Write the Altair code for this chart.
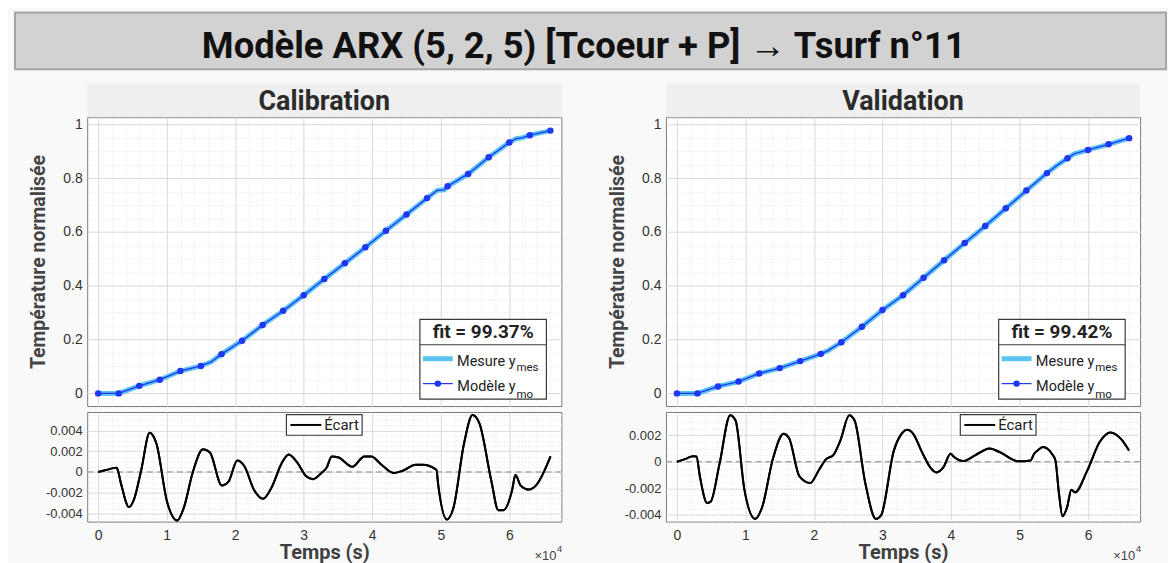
import altair as alt
import pandas as pd

# ---------------- data ----------------
TITLE = "Modèle ARX (5, 2, 5) [Tcoeur + P] → Tsurf n°11"
PANELS = ["Calibration", "Validation"]
FITS = ["fit = 99.37%", "fit = 99.42%"]

marker_t = [0, 3000, 6000, 9000, 12000, 15000, 18000, 21000, 24000, 27000, 30000, 33000,
            36000, 39000, 42000, 45000, 48000, 51000, 54000, 57000, 60000, 63000, 66000]

cal_model_y = [0.000, 0.000, 0.028, 0.051, 0.083, 0.102, 0.146, 0.196, 0.254, 0.307, 0.365, 0.425,
               0.484, 0.543, 0.605, 0.665, 0.726, 0.770, 0.816, 0.878, 0.933, 0.960, 0.977]
cal_line_t = [0, 3000, 6000, 9000, 12000, 15000, 16500, 18000, 21000, 24000, 27000, 30000, 33000,
              36000, 39000, 42000, 45000, 48000, 49500, 50500, 51000, 54000, 57000, 60000, 61000,
              62000, 63000, 66000]
cal_line_y = [0.000, 0.000, 0.028, 0.051, 0.083, 0.102, 0.117, 0.146, 0.196, 0.254, 0.307, 0.365, 0.425,
              0.484, 0.543, 0.605, 0.665, 0.726, 0.755, 0.757, 0.770, 0.816, 0.878, 0.933, 0.947,
              0.951, 0.960, 0.977]

val_model_y = [0.000, 0.000, 0.026, 0.044, 0.074, 0.094, 0.120, 0.147, 0.190, 0.248, 0.310, 0.365,
               0.430, 0.495, 0.559, 0.622, 0.688, 0.754, 0.819, 0.874, 0.905, 0.926, 0.949]
val_line_t = [0, 3000, 6000, 9000, 12000, 15000, 18000, 21000, 22000, 24000, 27000, 30000, 33000,
              36000, 39000, 42000, 45000, 48000, 51000, 54000, 55500, 57000, 58000, 60000, 63000, 66000]
val_line_y = [0.000, 0.000, 0.026, 0.044, 0.074, 0.094, 0.120, 0.147, 0.158, 0.190, 0.248, 0.310, 0.365,
              0.430, 0.495, 0.559, 0.622, 0.688, 0.754, 0.819, 0.848, 0.874, 0.891, 0.905, 0.926, 0.949]

cal_err_t = [0, 1000, 2660, 2760, 3360, 4500, 5260, 6260, 7520, 8520, 10025, 11530, 12530, 13780,
             15290, 16290, 18050, 19050, 20300, 21300, 22800, 24060, 25310, 26820, 27820, 29070,
             30330, 31330, 32580, 33330, 34090, 35090, 37090, 38850, 39850, 41350, 43110, 44360,
             46370, 47370, 49370, 49620, 50880, 51880, 53380, 54640, 55640, 57390, 58400, 59150,
             60400, 60900, 61650, 62910, 63910, 66020]
cal_err_v = [0.0, 0.00016, 0.0004, 0.00035, -0.0012, -0.0034, -0.0026, 0.0001, 0.0038, 0.0027,
             -0.0028, -0.0047, -0.0034, -0.0001, 0.0022, 0.0019, -0.0013, -0.0009, 0.0011, 0.0006,
             -0.0018, -0.0026, -0.0015, 0.0009, 0.0017, 0.0009, -0.0004, -0.0007, -0.0001, 0.0004,
             0.0015, 0.0014, 0.0005, 0.0015, 0.0015, 0.0007, -0.0001, 0.0001, 0.0007, 0.0007,
             0.0002, -0.0012, -0.0046, -0.0034, 0.0027, 0.0055, 0.0047, -0.0009, -0.0037, -0.0037,
             -0.0018, -0.0003, -0.0013, -0.0017, -0.0013, 0.0015]

val_err_t = [0, 1300, 2330, 2850, 3370, 4410, 4930, 6220, 7780, 8560, 9850, 11410, 12450, 14000,
             15560, 16340, 17890, 19450, 20750, 21780, 22820, 23860, 25150, 25930, 27490, 29040,
             29820, 31640, 32940, 33610, 34490, 35790, 37080, 37860, 38900, 39940, 40460, 41750,
             43570, 45640, 47200, 49790, 51610, 52130, 52650, 53420, 54720, 55240, 55760, 56280,
             56950, 57570, 58090, 59900, 61720, 63280, 64830, 65980]
val_err_v = [0.0, 0.00022, 0.00042, 0.0004, -0.00115, -0.0031, -0.003, -0.00015, 0.0035, 0.0031,
             -0.0021, -0.0043, -0.0034, 0.0002, 0.0021, 0.0018, -0.0011, -0.0016, -0.0006, 0.0002,
             0.0005, 0.0016, 0.0035, 0.0031, -0.0016, -0.0043, -0.004, 0.0008, 0.0022, 0.0024,
             0.0021, 0.0007, -0.0005, -0.0008, -0.0004, 0.0006, 0.00035, 0.00005, 0.0005, 0.001,
             0.0007, 0.00003, 0.0001, 0.0006, 0.00085, 0.0011, 0.0006, 0.0001, -0.0024, -0.0041,
             -0.0034, -0.0021, -0.0023, -0.00065, 0.0015, 0.0022, 0.0017, 0.00085]

x_ticks = [0, 10000, 20000, 30000, 40000, 50000, 60000]
x_minor = [v * 2000 for v in range(0, 34)]
y_ticks_top = [0, 0.2, 0.4, 0.6, 0.8, 1]
y_minor_top = [round(v * 0.05, 3) for v in range(0, 21)]
y_ticks_cal_err = [-0.004, -0.002, 0, 0.002, 0.004]
y_ticks_val_err = [-0.004, -0.002, 0, 0.002]
y_minor_err = [round(-0.0045 + v * 0.0005, 5) for v in range(0, 21)]

# ---------------- style ----------------
FONT = "Roboto"
TFONT = "Liberation Sans"
LIGHT = "#5cc4f2"
BLUE = "#1f36f2"
GRID = "#dcdcdc"
MINOR = "#e2e2e2"
W, HT, HB = 476, 290, 110
XDOM = [-1600, 67600]
one = pd.DataFrame({"a": [0]})


def deco():
    return alt.Chart(one)


def xscale():
    return alt.Scale(domain=XDOM, nice=False, zero=False)


def xenc(labels, title):
    return alt.X("t:Q", scale=xscale(),
                 axis=alt.Axis(values=x_ticks, labels=labels, labelExpr="'' + round(datum.value/10000)",
                               labelFont=TFONT, labelFontSize=14, labelColor="#333333", labelPadding=7,
                               labelFlush=False, ticks=False, tickSize=0, domain=False, grid=True,
                               gridColor=GRID, title=title, titleFont=FONT, titleFontSize=20,
                               titleFontWeight="bold", titleColor="#404040", titleX=W / 2, titleY=31,
                               titleBaseline="middle", titleAlign="center"))


def yenc(field, dom, ticks, title=None, fsize=14):
    return alt.Y(field, scale=alt.Scale(domain=dom, nice=False, zero=False),
                 axis=alt.Axis(values=ticks, labelExpr="'' + datum.value", labelFont=TFONT,
                               labelFontSize=fsize, labelColor="#333333", labelPadding=5,
                               labelFlush=False, ticks=False, tickSize=0, domain=False, grid=True,
                               gridColor=GRID, title=title, titleFont=FONT, titleFontSize=19.5,
                               titleFontWeight="bold", titleColor="#454545", titleX=-49,
                               titleY=HT / 2, titleAngle=270, titleAlign="center",
                               titleBaseline="middle"))


def xplain():
    return alt.X("t:Q", scale=xscale(), axis=None)


def yplain(field, dom):
    return alt.Y(field, scale=alt.Scale(domain=dom, nice=False, zero=False), axis=None)


def minor_layer(df, field, dom, yminor):
    return alt.Chart(df).mark_point(opacity=0).encode(
        x=alt.X("t:Q", scale=xscale(),
                axis=alt.Axis(values=x_minor, orient="top", labels=False, ticks=False, domain=False,
                              grid=True, gridColor=MINOR, gridDash=[1, 2], title=None)),
        y=alt.Y(field, scale=alt.Scale(domain=dom, nice=False, zero=False),
                axis=alt.Axis(values=yminor, orient="right", labels=False, ticks=False, domain=False,
                              grid=True, gridColor=MINOR, gridDash=[1, 2], title=None)))


def top_panel(idx, line_t, line_y, mk_y, banner):
    ldf = pd.DataFrame({"t": line_t, "y": line_y})
    mdf = pd.DataFrame({"t": marker_t, "y": mk_y})
    dom = [-0.047, 1.027]
    layers = [
        minor_layer(ldf, "y:Q", dom, y_minor_top),
        alt.Chart(ldf).mark_line(color=LIGHT, strokeWidth=5).encode(
            x=xenc(False, None), y=yenc("y:Q", dom, y_ticks_top, "Température normalisée")),
        alt.Chart(ldf).mark_line(color=BLUE, strokeWidth=1.3).encode(x=xplain(), y=yplain("y:Q", dom)),
        alt.Chart(mdf).mark_circle(color=BLUE, size=42, opacity=1).encode(x=xplain(), y=yplain("y:Q", dom)),
        # panel header
        deco().mark_rect(fill="#efefef").encode(x=alt.value(0), x2=alt.value(W), y=alt.value(-34), y2=alt.value(0)),
        deco().mark_text(font=FONT, fontSize=27, fontWeight="bold", color="#2b2b2b", baseline="middle").encode(
            x=alt.value(W / 2), y=alt.value(-15), text=alt.value(PANELS[idx])),
        # legend
        deco().mark_rect(fill="white", stroke="#3a3a3a", strokeWidth=1.2).encode(
            x=alt.value(334), x2=alt.value(461), y=alt.value(203), y2=alt.value(283)),
        deco().mark_rule(color="#3a3a3a", strokeWidth=1.2).encode(
            x=alt.value(334), x2=alt.value(461), y=alt.value(228.5)),
        deco().mark_text(font=FONT, fontSize=19, fontWeight="bold", color="#222222", baseline="middle").encode(
            x=alt.value(397.5), y=alt.value(216), text=alt.value(FITS[idx])),
        deco().mark_rule(color=LIGHT, strokeWidth=5).encode(
            x=alt.value(337), x2=alt.value(367), y=alt.value(242.5)),
        deco().mark_rule(color=BLUE, strokeWidth=1.2).encode(
            x=alt.value(337), x2=alt.value(367), y=alt.value(267.5)),
        deco().mark_circle(color=BLUE, size=42, opacity=1).encode(x=alt.value(352), y=alt.value(267.5)),
        deco().mark_text(font=FONT, fontSize=14.5, color="#222222", align="right").encode(
            x=alt.value(430), y=alt.value(246), text=alt.value("Mesure y")),
        deco().mark_text(font=FONT, fontSize=11.5, color="#222222", align="left").encode(
            x=alt.value(431), y=alt.value(251.5), text=alt.value("mes")),
        deco().mark_text(font=FONT, fontSize=14.5, color="#222222", align="right").encode(
            x=alt.value(430), y=alt.value(271), text=alt.value("Modèle y")),
        deco().mark_text(font=FONT, fontSize=11.5, color="#222222", align="left").encode(
            x=alt.value(431), y=alt.value(279), text=alt.value("mo")),
    ]
    if banner:
        layers += [
            deco().mark_rect(fill="#d2d2d2", stroke="#a5a5a5", strokeWidth=2).encode(
                x=alt.value(-72.5), x2=alt.value(1083), y=alt.value(-105), y2=alt.value(-48)),
            deco().mark_text(font=FONT, fontSize=36.5, fontWeight="bold", color="#111111").encode(
                x=alt.value(498.5), y=alt.value(-70), text=alt.value(TITLE)),
        ]
    return alt.layer(*layers).resolve_axis(x="independent", y="independent").properties(width=W, height=HT)


def bottom_panel(err_t, err_v, dom, ticks, leg_x0):
    edf = pd.DataFrame({"t": err_t, "v": err_v})
    layers = [
        minor_layer(edf, "v:Q", dom, [m for m in y_minor_err if dom[0] <= m <= dom[1]]),
        alt.Chart(edf).mark_line(color="black", strokeWidth=2, interpolate="monotone").encode(
            x=xenc(True, "Temps (s)"), y=yenc("v:Q", dom, ticks, None, 13)),
        deco().mark_rule(color="#8a8a8a", strokeDash=[6, 4], strokeWidth=1).encode(
            y=alt.YDatum(0, scale=alt.Scale(domain=dom, nice=False, zero=False), axis=None)),
        alt.Chart(edf).mark_line(color="black", strokeWidth=2, interpolate="monotone").encode(
            x=xplain(), y=yplain("v:Q", dom)),
        # legend
        deco().mark_rect(fill="white", stroke="#3a3a3a", strokeWidth=1.2).encode(
            x=alt.value(leg_x0), x2=alt.value(leg_x0 + 76), y=alt.value(2.6), y2=alt.value(23.3)),
        deco().mark_rule(color="black", strokeWidth=2).encode(
            x=alt.value(leg_x0 + 4), x2=alt.value(leg_x0 + 35), y=alt.value(13)),
        deco().mark_text(font=FONT, fontSize=15, color="#222222", align="left", baseline="middle").encode(
            x=alt.value(leg_x0 + 38), y=alt.value(13.5), text=alt.value("Écart")),
        # x10^4
        deco().mark_text(font=TFONT, fontSize=13, color="#444444", align="right").encode(
            x=alt.value(W - 5), y=alt.value(HB + 35), text=alt.value("×10")),
        deco().mark_text(font=TFONT, fontSize=10, color="#444444", align="left").encode(
            x=alt.value(W - 4.5), y=alt.value(HB + 28), text=alt.value("4")),
    ]
    return alt.layer(*layers).resolve_axis(x="independent", y="independent").properties(width=W, height=HB)


lt = top_panel(0, cal_line_t, cal_line_y, cal_model_y, True)
rt = top_panel(1, val_line_t, val_line_y, val_model_y, False)
lb = bottom_panel(cal_err_t, cal_err_v, [-0.0048, 0.0058], y_ticks_cal_err, 200)
rb = bottom_panel(val_err_t, val_err_v, [-0.0045, 0.00374], y_ticks_val_err, 295.5)

chart = alt.concat(lt, rt, lb, rb, columns=2, spacing={"row": 6, "column": 105}, bounds="flush").properties(
    padding={"left": 5.5, "top": 1.5, "right": 0, "bottom": 0},
    background="#f9f9f9",
).configure_view(stroke="#7a7a7a", strokeWidth=1, fill="white")

chart.save("out.html", embed_options={"renderer": "svg", "actions": False})
